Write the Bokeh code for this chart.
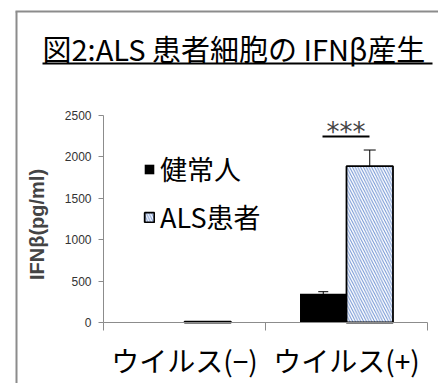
import math
from bokeh.plotting import figure
from bokeh.models import (ColumnDataSource, Range1d, FixedTicker, Label, BoxAnnotation,
                          Whisker, TeeHead, Legend, LegendItem)
from bokeh.embed import file_html
from bokeh.resources import INLINE

categories = ["ウイルス(−)", "ウイルス(+)"]
healthy = [0, 347]
als = [10, 1888]
healthy_err = [0, 25]
als_err = [0, 195]
y_ticks = [0, 500, 1000, 1500, 2000, 2500]
series_names = ["健常人", "ALS患者"]
title_text = "図2:ALS 患者細胞の IFNβ産生"
y_label_text = "IFNβ(pg/ml)"
sig_text = "***"

W, H = 438, 383
# pixel placement of the axes box inside the canvas
AX_L, AX_R, AX_T, AX_B = 103, 427, 115, 322
Y_MAX = 2500
BW = 0.287
n = len(categories)
idx = [i + 0.5 for i in range(n)]

xs = (AX_R - AX_L) / n          # px per x unit
ys = (AX_B - AX_T) / Y_MAX      # px per y unit
x_range = Range1d(-AX_L / xs, n + (W - AX_R) / xs)
y_range = Range1d(-(H - AX_B) / ys, Y_MAX + AX_T / ys)

src_h = ColumnDataSource(dict(x=[c - BW / 2 for c in idx], top=healthy,
                              up=[v + e for v, e in zip(healthy, healthy_err)],
                              lo=[v - e for v, e in zip(healthy, healthy_err)]))
src_a = ColumnDataSource(dict(x=[c + BW / 2 for c in idx], top=als,
                              up=[v + e for v, e in zip(als, als_err)],
                              lo=[v - e for v, e in zip(als, als_err)]))

p = figure(width=W, height=H, output_backend="svg", toolbar_location=None,
           x_range=x_range, y_range=y_range,
           min_border_left=0, min_border_right=0, min_border_top=0, min_border_bottom=0)
p.outline_line_color = None
p.grid.visible = False
p.background_fill_color = "white"
p.border_fill_color = "white"

r_h = p.vbar(x="x", top="top", width=BW, source=src_h, fill_color="black",
             line_color=None)
r_a = p.vbar(x="x", top="top", width=BW, source=src_a, fill_color="white",
             line_color="black", line_width=1.8, hatch_pattern="\\",
             hatch_color="#6f92d2", hatch_scale=5.5, hatch_weight=1)

p.add_layout(Whisker(source=src_h, base="x", upper="up", lower="lo", line_color="black",
                     upper_head=TeeHead(size=10, line_color="black"),
                     lower_head=TeeHead(size=10, line_color="black")))
p.add_layout(Whisker(source=src_a, base="x", upper="up", lower="lo", line_color="black",
                     upper_head=TeeHead(size=12, line_color="black"),
                     lower_head=TeeHead(size=12, line_color="black")))

# y axis
ya = p.yaxis[0]
ya.fixed_location = 0
ya.bounds = (0, Y_MAX)
ya.ticker = FixedTicker(ticks=y_ticks)
ya.axis_line_color = "#8c8c8c"
ya.major_tick_line_color = "#8c8c8c"
ya.major_tick_out = 5
ya.major_tick_in = 0
ya.minor_tick_line_color = None
ya.major_label_text_font = "Liberation Sans"
ya.major_label_text_font_size = "12px"
ya.major_label_text_color = "#333333"
ya.major_label_standoff = 7

# x axis
xa = p.xaxis[0]
xa.fixed_location = 0
xa.bounds = (0, n)
xa.ticker = FixedTicker(ticks=idx, minor_ticks=list(range(n + 1)))
xa.major_label_overrides = {v: c for v, c in zip(idx, categories)}
xa.axis_line_color = "#8c8c8c"
xa.major_tick_line_color = None
xa.major_tick_out = 0
xa.major_tick_in = 0
xa.minor_tick_line_color = "#8c8c8c"
xa.minor_tick_out = 8
xa.minor_tick_in = 0
xa.major_label_text_font = "Noto Sans CJK JP"
xa.major_label_text_font_size = "28px"
xa.major_label_text_color = "black"
xa.major_label_standoff = 9

legend = Legend(items=[LegendItem(label=series_names[0], renderers=[r_h]),
                       LegendItem(label=series_names[1], renderers=[r_a])],
                location=(143, 147), background_fill_alpha=0, border_line_color=None,
                glyph_width=12, glyph_height=12, label_standoff=5, spacing=9,
                label_text_font="Noto Sans CJK JP", label_text_font_size="27px",
                label_text_color="black", padding=0, margin=0)
p.add_layout(legend)

def cbox(l, r, t, b, **kw):
    return BoxAnnotation(left=l, right=r, top=t, bottom=b,
                         left_units="canvas", right_units="canvas",
                         top_units="canvas", bottom_units="canvas", **kw)

# panel frame (left and top edges; the rest lies outside the view)
p.add_layout(cbox(15, 17, 11, H, fill_color="#8c8c8c", fill_alpha=1, line_color=None))
p.add_layout(cbox(15, W, 10, 12, fill_color="#8c8c8c", fill_alpha=1, line_color=None))

title = Label(x=42, y=47, x_units="canvas", y_units="canvas", text=title_text,
              text_font="Noto Sans CJK JP", text_font_size="29px", text_color="black",
              text_baseline="alphabetic")
p.add_layout(title)
p.add_layout(cbox(42, 432, 62, 64, fill_color="black", fill_alpha=1, line_color=None))

ylab = Label(x=36, y=224, x_units="canvas", y_units="canvas", angle=math.pi / 2,
             text=y_label_text, text_font="Liberation Sans", text_font_style="bold",
             text_font_size="20px", text_align="center", text_baseline="middle")
p.add_layout(ylab)

stars = Label(x=345.5, y=116, x_units="canvas", y_units="canvas", text=sig_text,
              text_font="DejaVu Sans", text_font_size="26px", text_align="center",
              text_baseline="top")
p.add_layout(stars)
p.add_layout(cbox(322, 369, 135, 137, fill_color="black", fill_alpha=1, line_color=None))

open("out.html", "w").write(file_html(p, INLINE))
